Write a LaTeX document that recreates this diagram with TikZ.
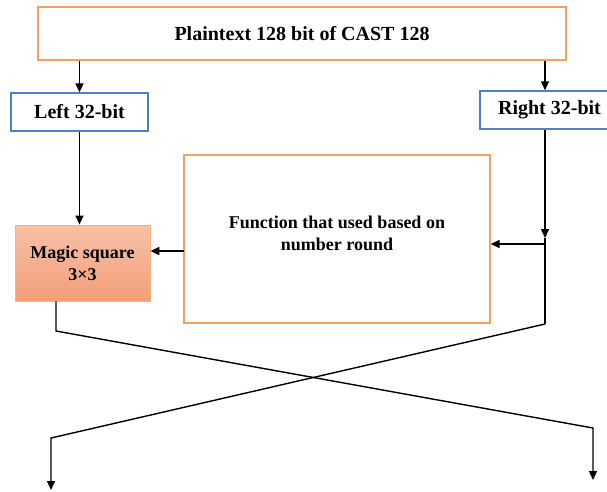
\documentclass[tikz,border=0pt]{standalone}
\usepackage{fontspec}
\setmainfont{Liberation Serif}
\usetikzlibrary{arrows.meta,calc}
\definecolor{boxorange}{RGB}{244,160,100}
\definecolor{boxblue}{RGB}{82,126,200}
\definecolor{salmontop}{RGB}{247,192,168}
\definecolor{salmonbot}{RGB}{243,158,122}
\tikzset{
  every node/.style={font=\fontsize{18}{22}\selectfont\bfseries, align=center, inner sep=0pt},
  bigtext/.style={font=\fontsize{20}{24}\selectfont\bfseries},
  orangebox/.style={draw=boxorange, line width=1.3pt, fill=white},
  bluebox/.style={draw=boxblue, line width=1.3pt, fill=white},
  magicbox/.style={draw=boxorange!80, line width=0.8pt, top color=salmontop, bottom color=salmonbot},
  wire/.style={draw=black, line width=1.4pt},
  arr/.style={wire, -{Triangle[length=9pt,width=8pt]}}
}
\begin{document}
\begin{tikzpicture}[x=1pt,y=-1pt]
\useasboundingbox (0,0) rectangle (607,491);

% blocks
\node[orangebox, bigtext, minimum width=528pt, minimum height=53pt] (top) at (302,33.5) {Plaintext 128 bit of CAST 128};
\node[bluebox, bigtext, minimum width=137pt, minimum height=38pt] (left) at (79.5,112) {Left 32-bit};
\node[bluebox, bigtext, minimum width=139pt, minimum height=38pt] (right) at (549.5,110) {Right 32-bit};
\node[orangebox, minimum width=306pt, minimum height=168pt] (func) at (337,239) {};
\node (functext) at (337,233) {Function that used based on\\number round};
\node[magicbox, minimum width=135pt, minimum height=76pt] (magic) at (82.5,263) {Magic square\\3×3};

% routing points
\coordinate (rx) at (545,0);
\coordinate (j) at (545,244);
\coordinate (rb) at (545,324);
\coordinate (fa) at (184,251);
\coordinate (la) at (56,331);
\coordinate (ra) at (593,428);
\coordinate (outR) at (593,480);
\coordinate (lb) at (51,438);
\coordinate (outL) at (51,490);

% split of the plaintext
\draw[arr] (top.south -| left.north) -- (left.north);
\draw[arr] (top.south -| rx) -- (right.north -| rx);

% left half into the magic square
\draw[arr] (left.south) -- (magic.north -| left.south);

% right half through the round function
\draw[arr] (right.south -| rx) -- ([yshift=6pt]j);
\draw[wire] ([yshift=6pt]j) -- (j) -- (rb);
\draw[arr] (j) -- (func.east |- j);
\draw[arr] (fa) -- (magic.east |- fa);

% swap of the halves
\draw[arr] (magic.south -| la) -- (la) -- (ra) -- (outR);
\draw[arr] (rb) -- (lb) -- (outL);
\end{tikzpicture}
\end{document}
